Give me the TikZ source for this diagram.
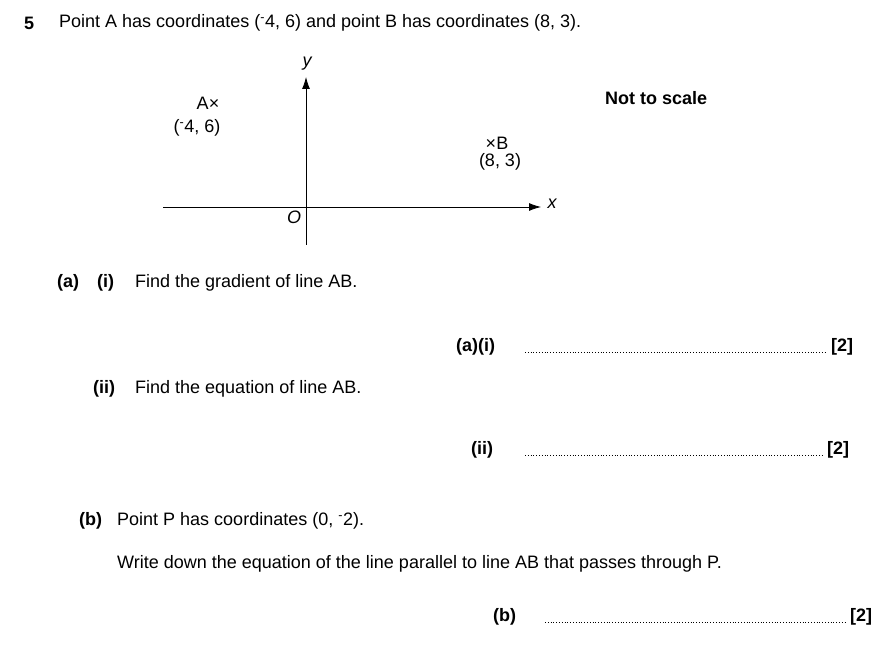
\documentclass[tikz,border=0pt]{standalone}
\usepackage{fontspec}
\setmainfont{Liberation Sans}
\usetikzlibrary{arrows.meta}

\begin{document}
\begin{tikzpicture}
		[
			x=1pt,y=-1pt,
			every node/.style={font=\fontsize{18}{21}\selectfont,inner sep=0pt},
			txt/.style={anchor=west},
			lbl/.style={anchor=west,font=\fontsize{18}{21}\selectfont\bfseries},
			axis/.style={line width=0.8pt,-{Latex[length=12pt,width=8pt]}},
			answer/.style={line width=0.8pt,dash pattern=on 0.8pt off 2pt}]
		\useasboundingbox (0,0) rectangle (886,668);
		% question header
		\node[lbl] (Num) at (24,23) {5};
		\node[txt] (Intro) at (59,23) {Point A has coordinates (\textsuperscript{-}4, 6) and point B has coordinates (8, 3).};
		% axes
		\coordinate (Ybot) at (306,245);
		\coordinate (Ytop) at (306,77);
		\coordinate (Xleft) at (163,207);
		\coordinate (Xright) at (541,207);
		\draw[axis] (Ybot) -- (Ytop);
		\draw[axis] (Xleft) -- (Xright);
		\node (Ylab) at (307,64) {\itshape y};
		\node (Xlab) at (552,204) {\itshape x};
		\node (Orig) at (294,217) {\itshape O};
		\node (PtA) at (208,103) {A×};
		\node (PtAc) at (197,128) {(\textsuperscript{-}4, 6)};
		\node (PtB) at (497,143) {×B};
		\node (PtBc) at (500,162) {(8, 3)};
		\node[lbl] (Scale) at (605,98) {Not to scale};
		% part (a)
		\node[lbl] (PartA) at (57,283) {(a)};
		\node[lbl] (PartAi) at (97,283) {(i)};
		\node[txt] (QAi) at (135,283) {Find the gradient of line AB.};
		\node[lbl] (AnsAi) at (456,347) {(a)(i)};
		\draw[answer] (525,352) -- (826,352);
		\node[lbl] (MkAi) at (831,347) {[2]};
		\node[lbl] (PartAii) at (93,389) {(ii)};
		\node[txt] (QAii) at (135,389) {Find the equation of line AB.};
		\node[lbl] (AnsAii) at (471,450) {(ii)};
		\draw[answer] (525,455) -- (822,455);
		\node[lbl] (MkAii) at (827,450) {[2]};
		% part (b)
		\node[lbl] (PartB) at (79,521) {(b)};
		\node[txt] (QB) at (117,521) {Point P has coordinates (0, \textsuperscript{-}2).};
		\node[txt] (QBb) at (117,564) {Write down the equation of the line parallel to line AB that passes through P.};
		\node[lbl] (AnsB) at (493,617) {(b)};
		\draw[answer] (545,622) -- (845,622);
		\node[lbl] (MkB) at (850,617) {[2]};
	\end{tikzpicture}
\end{document}
